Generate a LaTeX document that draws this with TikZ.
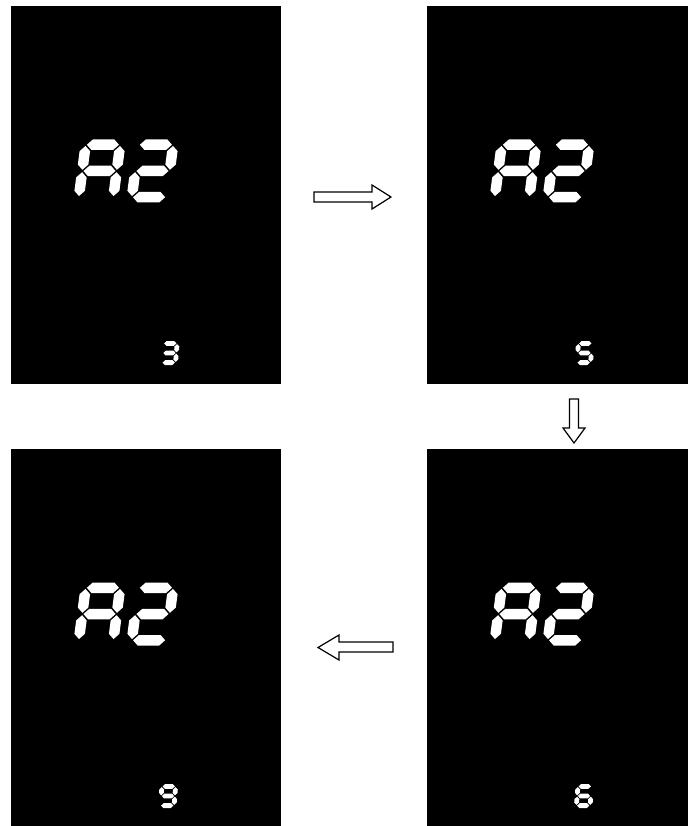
\documentclass[tikz,border=0pt]{standalone}
\newcommand\sgset[4]{\pgfmathsetmacro\sgT{#3}\pgfmathsetmacro\sgG{#4}\pgfmathsetmacro\sgR{#1/2-#3/2}\pgfmathsetmacro\sgL{-\sgR}\pgfmathsetmacro\sgB{#2/2-#3/2}\pgfmathsetmacro\sgA{-\sgB}}
\newcommand\hs[3]{\fill[segc] ({#1},{#3}) -- ({#1+\sgT/2},{#3-\sgT/2}) -- ({#2-\sgT/2},{#3-\sgT/2}) -- ({#2},{#3}) -- ({#2-\sgT/2},{#3+\sgT/2}) -- ({#1+\sgT/2},{#3+\sgT/2}) -- cycle;}
\newcommand\vs[3]{\fill[segc] ({#1},{#2}) -- ({#1+\sgT/2},{#2+\sgT/2}) -- ({#1+\sgT/2},{#3-\sgT/2}) -- ({#1},{#3}) -- ({#1-\sgT/2},{#3-\sgT/2}) -- ({#1-\sgT/2},{#2+\sgT/2}) -- cycle;}
\newcommand\sga{\hs{\sgL+\sgG}{\sgR-\sgG}{\sgA}}
\newcommand\sgb{\vs{\sgR}{\sgA+\sgG}{-\sgG}}
\newcommand\sgc{\vs{\sgR}{\sgG}{\sgB-\sgG}}
\newcommand\sgd{\hs{\sgL+\sgG}{\sgR-\sgG}{\sgB}}
\newcommand\sge{\vs{\sgL}{\sgG}{\sgB-\sgG}}
\newcommand\sgf{\vs{\sgL}{\sgA+\sgG}{-\sgG}}
\newcommand\sgg{\hs{\sgL+\sgG}{\sgR-\sgG}{0}}
\newcommand\dgt[4]{\begin{scope}[shift={(#1,#2)},xslant=#3] #4 \end{scope}}
\newcommand\bigAtwo[2]{%
  \sgset{45}{63}{10.5}{1.2}%
  \dgt{#1}{#2}{0.13}{\sga\sgb\sgc\sge\sgf\sgg}%
  \dgt{#1+53}{#2}{0.13}{\sga\sgb\sgg\sge\sgd}}
\begin{document}
\begin{tikzpicture}[x=1pt,y=-1pt,
  panel/.style={fill=black, inner sep=0pt, anchor=north west},
  segc/.style={fill=white},
  blockarrow/.style={draw=black, fill=white, line width=1.2pt, line join=miter}]
\useasboundingbox (0,0) rectangle (688,826);
\fill[white] (0,0) rectangle (688,826);
% panels
\node[panel, minimum width=270pt, minimum height=378pt] (tl) at (11,6) {};
\node[panel, minimum width=261pt, minimum height=378pt] (tr) at (427,6) {};
\node[panel, minimum width=270pt, minimum height=377pt] (bl) at (11,449) {};
\node[panel, minimum width=261pt, minimum height=377pt] (br) at (427,449) {};
% big A2
\bigAtwo{99.5}{171}
\bigAtwo{515.5}{171}
\bigAtwo{99.5}{614}
\bigAtwo{515.5}{614}
% small digits
\sgset{18.5}{24}{4.8}{0.7}
\dgt{169.5}{353}{0.08}{\sga\sgb\sgg\sgc\sgd}
\dgt{584.5}{353}{0.08}{\sga\sgf\sgg\sgc\sgd}
\dgt{584}{796}{0.08}{\sga\sgf\sgg\sge\sgc\sgd}
\dgt{168}{796}{0.08}{\sga\sgb\sgf\sgg\sgc\sgd}
% arrows
\draw[blockarrow] (314,192) -- (372,192) -- (372,185) -- (391,197) -- (372,209) -- (372,202) -- (314,202) -- cycle;
\draw[blockarrow] (393,642) -- (339,642) -- (339,635) -- (318,647.5) -- (339,660) -- (339,652) -- (393,652) -- cycle;
\draw[blockarrow] (569.5,399) -- (569.5,428) -- (563,428) -- (574,443) -- (585,428) -- (578.5,428) -- (578.5,399) -- cycle;
\end{tikzpicture}
\end{document}
